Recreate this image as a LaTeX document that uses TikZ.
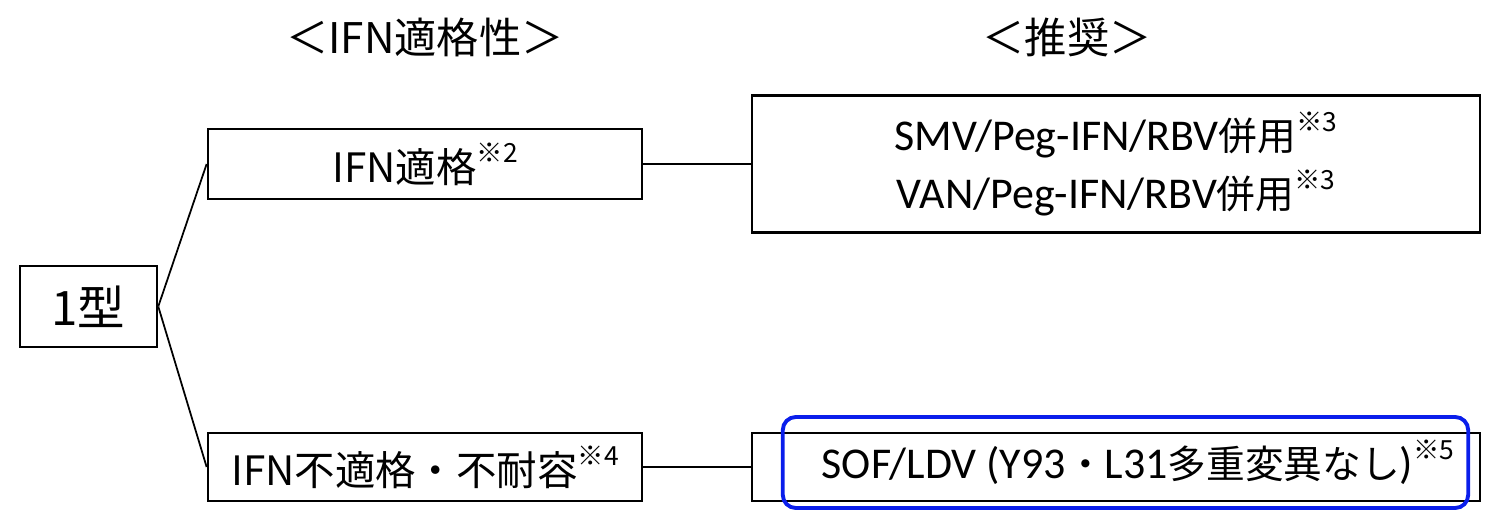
\documentclass[tikz,border=0pt]{standalone}
\usepackage{fontspec}
\usepackage{tikz}
\usetikzlibrary{positioning}
\newfontfamily\jp{Noto Sans CJK JP}
\newfontfamily\lat{Carlito}
\definecolor{hlblue}{RGB}{10, 30, 235}
\newcommand{\note}[1]{\raisebox{0.9ex}{\fontsize{7.5}{8}\selectfont ※#1}}

\begin{document}
\begin{tikzpicture}[x=0.01cm, y=-0.01cm]
        \useasboundingbox (0,0) rectangle (1499,512);
        \tikzset{
            box/.style={draw=black, line width=0.7pt, inner sep=0pt, font=\jp},
            link/.style={draw=black, line width=0.5pt},
            head/.style={font=\jp\fontsize{12}{14}\selectfont}
        }
        % headings
        \node[head] (h1) at (425, 37) {＜IFN適格性＞};
        \node[head] (h2) at (1067, 37) {＜推奨＞};

        % genotype
        \node[box, minimum width=1.37cm, minimum height=0.81cm, font=\jp\fontsize{13.5}{15}\selectfont] (type1) at (88.5, 306.5) {1型};

        % IFN eligibility
        \node[box, minimum width=4.34cm, minimum height=0.70cm, font=\jp\fontsize{11.5}{13}\selectfont] (ok) at (425, 164) {IFN適格\note{2}};
        \node[box, minimum width=4.34cm, minimum height=0.68cm, font=\jp\fontsize{11.5}{13}\selectfont] (ng) at (425, 467) {IFN不適格・不耐容\note{4}};

        % recommendations
        \node[box, minimum width=7.28cm, minimum height=1.37cm, align=center, font=\jp\fontsize{11}{16.5}\selectfont] (rec1) at (1116, 164)
            {{\lat\fontsize{12.5}{16.5}\selectfont SMV/Peg-IFN/RBV}併用\note{3}\\{\lat\fontsize{12.5}{16.5}\selectfont VAN/Peg-IFN/RBV}併用\note{3}};
        \node[box, minimum width=7.28cm, minimum height=0.68cm] (rec2) at (1116, 467) {};
        \node[draw=hlblue, line width=1.1pt, rounded corners=1.3mm, minimum width=6.85cm, minimum height=0.91cm, inner sep=0pt,
              font=\jp\fontsize{11}{13}\selectfont] (hl) at (1125.5, 462.5)
            {\hspace*{0.25cm}{\lat\fontsize{12.5}{14}\selectfont SOF/LDV (Y93}・{\lat\fontsize{12.5}{14}\selectfont L31}多重変異なし{\lat\fontsize{12.5}{14}\selectfont )}\note{5}};

        % connectors
        \draw[link] (type1.east) -- (ok.west);
        \draw[link] (type1.east) -- (ng.west);
        \draw[link] (ok.east) -- (rec1.west);
        \draw[link] (ng.east) -- (rec2.west);
\end{tikzpicture}
\end{document}
